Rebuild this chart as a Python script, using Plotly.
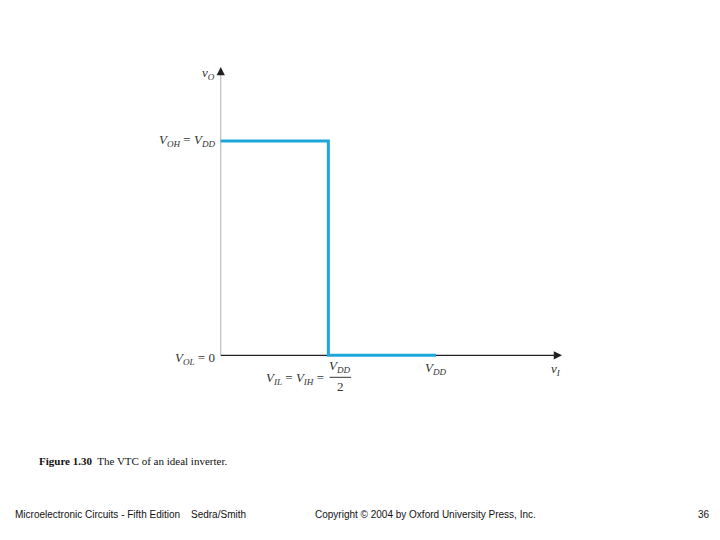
import plotly.graph_objects as go

# Data (in units of V_DD)
vin = [0.0, 0.5, 0.5, 1.0]
vout = [1.0, 1.0, 0.0, 0.0]
x_ticks = [0.5, 1.0]
y_ticks = [0.0, 1.0]

OFF = 8  # page body margin compensation
W, H = 720 - OFF, 540 - OFF
SX, SY = 215.0, 214.0          # pixels per V_DD
OX, OY = 221 - OFF, 355 - OFF  # origin pixel (figure coords)
XLO, XMAX = -0.05, 1.586
YLO, YMAX = -0.05, 1.346
X0 = OX + XLO * SX
X1 = OX + XMAX * SX
Y0 = OY - YLO * SY
Y1 = OY - YMAX * SY
L, R, T, B = X0, W - X1, Y1, H - Y0

def px(x):
    return (x - OFF - X0) / (X1 - X0)

def py(y):
    return (Y0 - (y - OFF)) / (Y0 - Y1)

fig = go.Figure()
fig.add_trace(go.Scatter(x=vin, y=vout, mode="lines",
                         line=dict(color="#1ca6dc", width=3),
                         hoverinfo="skip", showlegend=False))

serif = "Liberation Serif"
sans = "Liberation Sans"

# axes lines
fig.add_shape(type="line", xref="x", yref="y", x0=0, y0=0, x1=0, y1=YMAX * 0.985,
              line=dict(color="#b0b0b0", width=1), layer="below")
fig.add_shape(type="line", xref="x", yref="y", x0=0, y0=0, x1=XMAX * 0.985, y1=0,
              line=dict(color="#222222", width=1.3), layer="below")

ann = []
# arrowheads
ann.append(dict(x=0, y=YMAX, ax=0, ay=YMAX - 0.03, xref="x", yref="y", axref="x", ayref="y",
                showarrow=True, arrowhead=2, arrowsize=1.1, arrowwidth=1.5, arrowcolor="#222", text=""))
ann.append(dict(x=XMAX, y=0, ax=XMAX - 0.03, ay=0, xref="x", yref="y", axref="x", ayref="y",
                showarrow=True, arrowhead=2, arrowsize=1.1, arrowwidth=1.5, arrowcolor="#222", text=""))

lab = dict(family=serif, size=13, color="#333333")
# axis titles
ann.append(dict(x=0, y=YMAX, xref="x", yref="y", xshift=-4, yshift=-6, xanchor="right", yanchor="middle",
                text="<i>v<sub>O</sub></i>", showarrow=False, font=lab))
ann.append(dict(x=XMAX, y=0, xref="x", yref="y", xshift=-6, yshift=-14, xanchor="center", yanchor="middle",
                text="<i>v<sub>I</sub></i>", showarrow=False, font=lab))
# y tick labels
ann.append(dict(x=0, y=y_ticks[1], xref="x", yref="y", xshift=-4, yshift=1, xanchor="right", yanchor="middle",
                text="<i>V<sub>OH</sub></i> = <i>V<sub>DD</sub></i>", showarrow=False, font=lab))
ann.append(dict(x=0, y=y_ticks[0], xref="x", yref="y", xshift=-4, yshift=-3, xanchor="right", yanchor="middle",
                text="<i>V<sub>OL</sub></i> = 0", showarrow=False, font=lab))
# x tick labels
ann.append(dict(x=x_ticks[1], y=0, xref="x", yref="y", xshift=0, yshift=-13, xanchor="center", yanchor="middle",
                text="<i>V<sub>DD</sub></i>", showarrow=False, font=lab))
ann.append(dict(x=x_ticks[0], y=0, xref="x", yref="y", xshift=-2, yshift=-23, xanchor="right", yanchor="middle",
                text="<i>V<sub>IL</sub></i> = <i>V<sub>IH</sub></i> =", showarrow=False, font=lab))
ann.append(dict(x=x_ticks[0], y=0, xref="x", yref="y", xshift=12, yshift=-11, xanchor="center", yanchor="middle",
                text="<i>V<sub>DD</sub></i>", showarrow=False, font=lab))
ann.append(dict(x=x_ticks[0], y=0, xref="x", yref="y", xshift=12, yshift=-31, xanchor="center", yanchor="middle",
                text="2", showarrow=False, font=lab))
# fraction bar
fig.add_shape(type="line", xref="x", yref="paper", x0=x_ticks[0] + 0.006, x1=x_ticks[0] + 0.106,
              y0=py(377), y1=py(377), line=dict(color="#333", width=1))

# caption
ann.append(dict(x=px(37), y=py(461), xref="paper", yref="paper", xanchor="left", yanchor="middle",
                text="<b>Figure 1.30</b>  The VTC of an ideal inverter.", showarrow=False,
                font=dict(family=serif, size=11, color="#111")))
foot = dict(family=sans, size=10, color="#111")
ann.append(dict(x=px(13), y=py(514), xref="paper", yref="paper", xanchor="left", yanchor="middle",
                text="Microelectronic Circuits - Fifth Edition", showarrow=False, font=foot))
ann.append(dict(x=px(189), y=py(514), xref="paper", yref="paper", xanchor="left", yanchor="middle",
                text="Sedra/Smith", showarrow=False, font=foot))
ann.append(dict(x=px(313), y=py(514), xref="paper", yref="paper", xanchor="left", yanchor="middle",
                text="Copyright © 2004 by Oxford University Press, Inc.", showarrow=False, font=foot))
ann.append(dict(x=px(712), y=py(514), xref="paper", yref="paper", xanchor="right", yanchor="middle",
                text="36", showarrow=False, font=foot))

fig.update_layout(
    width=W, height=H,
    margin=dict(l=L, r=R, t=T, b=B, pad=0),
    paper_bgcolor="white", plot_bgcolor="white",
    xaxis=dict(range=[XLO, XMAX], visible=False, fixedrange=True),
    yaxis=dict(range=[YLO, YMAX], visible=False, fixedrange=True),
    annotations=ann,
    showlegend=False,
)
fig.write_html("out.html")
